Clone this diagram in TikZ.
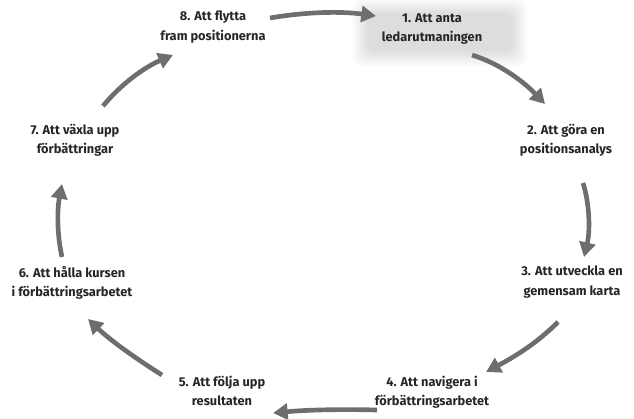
\documentclass[tikz,border=0pt]{standalone}
\usepackage{fontspec}
\setmainfont{Fira Sans}
\usetikzlibrary{arrows.meta}
\definecolor{arr}{HTML}{6E6E6E}
\definecolor{txt}{HTML}{262626}
\tikzset{
  lbl/.style={align=center, font=\bfseries\fontsize{9.6}{14.5}\selectfont, text=txt, inner sep=1pt},
  cyc/.style={draw=arr, line width=3.5pt, -{Triangle[length=11pt,width=12pt]}, line cap=butt},
  glow/.style={fill=black, fill opacity=0.0085, draw=none, rounded corners=8pt}
}
\begin{document}
\begin{tikzpicture}[x=0.75pt,y=-0.75pt]
\useasboundingbox (0,0) rectangle (634,418);
% soft shaded box behind step 1
\foreach \e in {-4,-3,...,12}{
  \fill[glow] (364-\e,10-\e) rectangle (516+\e,55+\e);
}
% labels
\node[lbl] (n8) at (213,27) {8. Att flytta\\fram positionerna};
\node[lbl] (n1) at (432,29) {1. Att anta\\ledarutmaningen};
\node[lbl] (n2) at (566,140) {2. Att göra en\\positionsanalys};
\node[lbl] (n3) at (572,282) {3. Att utveckla en\\gemensam karta};
\node[lbl] (n4) at (432,392) {4. Att navigera i\\förbättringsarbetet};
\node[lbl] (n5) at (222,391) {5. Att följa upp\\resultaten};
\node[lbl] (n6) at (72,283) {6. Att hålla kursen\\i förbättringsarbetet};
\node[lbl] (n7) at (75,140) {7. Att växla upp\\förbättringar};
% arrow end points
\coordinate (a81) at (270,18);  \coordinate (b81) at (376,16);
\coordinate (a12) at (472,55);  \coordinate (b12) at (545,104);
\coordinate (a23) at (583,183); \coordinate (b23) at (584,257);
\coordinate (a34) at (558,322); \coordinate (b34) at (486,372);
\coordinate (a45) at (377,410); \coordinate (b45) at (273,413);
\coordinate (a56) at (162,375); \coordinate (b56) at (88,319);
\coordinate (a67) at (62,257);  \coordinate (b67) at (62,184);
\coordinate (a78) at (103,106); \coordinate (b78) at (173,55);
% arrows
\draw[cyc] (a81) .. controls (305,12) and (340,11) .. (b81);
\draw[cyc] (a12) .. controls (498,63) and (522,80) .. (b12);
\draw[cyc] (a23) .. controls (590,205) and (590,232) .. (b23);
\draw[cyc] (a34) .. controls (535,345) and (512,358) .. (b34);
\draw[cyc] (a45) .. controls (340,409) and (305,410) .. (b45);
\draw[cyc] (a56) .. controls (135,358) and (110,340) .. (b56);
\draw[cyc] (a67) .. controls (57,235) and (57,210) .. (b67);
\draw[cyc] (a78) .. controls (122,83) and (145,67) .. (b78);
\end{tikzpicture}
\end{document}
